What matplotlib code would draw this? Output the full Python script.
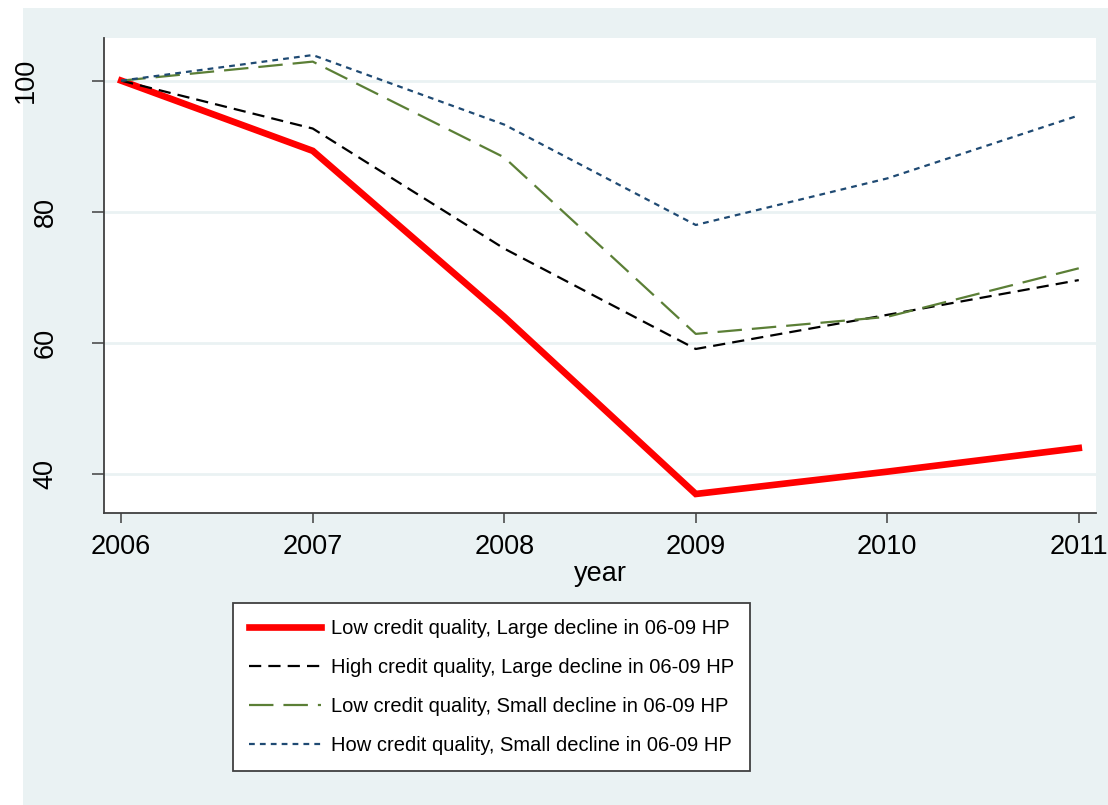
import numpy as np
import matplotlib.pyplot as plt
import matplotlib.transforms as mtransforms
from matplotlib.patches import Rectangle

plt.rcParams['font.family'] = ['Liberation Sans', 'DejaVu Sans']

# values (index, 2006 = 100)
years = [2006, 2007, 2008, 2009, 2010, 2011]
low_large = [100, 89.3, 64.0, 37.0, 40.4, 44.0]
high_large = [100, 92.7, 74.4, 59.1, 64.3, 69.6]
low_small = [100, 102.9, 88.3, 61.4, 64.0, 71.4]
high_small = [100, 103.9, 93.3, 78.0, 85.1, 94.7]

labels = ["Low credit quality, Large decline in 06-09 HP",
          "High credit quality, Large decline in 06-09 HP",
          "Low credit quality, Small decline in 06-09 HP",
          "How credit quality, Small decline in 06-09 HP"]

yticks = [40, 60, 80, 100]

bg = '#eaf2f3'

fig = plt.figure(figsize=(11.08, 8.05), dpi=100, facecolor='white')
# stata style graph region, leaves a white strip on left and top
fig.patches.append(Rectangle((23 / 1108, 0), 1, 1 - 8 / 805, transform=fig.transFigure,
                             facecolor=bg, edgecolor='none', zorder=-1))

ax = fig.add_axes([104 / 1108, 1 - 513 / 805, (1096 - 104) / 1108, (513 - 38) / 805])
ax.set_facecolor('white')

l1, = ax.plot(years, low_large, color='#ff0000', lw=4.8, solid_joinstyle='miter')
l2, = ax.plot(years, high_large, color='black', lw=1.6, dashes=(5.5, 3.2))
l3, = ax.plot(years, low_small, color='#5b7f36', lw=1.6, dashes=(11, 4.5))
l4, = ax.plot(years, high_small, color='#1f4a73', lw=1.6, dashes=(2.6, 2.3))

ax.set_xlim(2005.91, 2011.09)
ax.set_ylim(34.1, 106.5)
ax.set_xticks(years)
ax.set_yticks(yticks)
ax.yaxis.grid(True, color=bg, lw=2)
ax.set_axisbelow(True)

for s in ['top', 'right']:
    ax.spines[s].set_visible(False)
for s in ['left', 'bottom']:
    ax.spines[s].set_color('#404040')
    ax.spines[s].set_linewidth(1.3)

ax.tick_params(axis='x', direction='out', length=7, width=1.1, color='#404040',
               labelsize=19.5, pad=8)
ax.tick_params(axis='y', direction='out', length=8.5, width=1.1, color='#404040',
               labelsize=19.5, pad=24)
for lab in ax.get_yticklabels():
    lab.set_rotation(90)
    lab.set_va('center')
    lab.set_ha('right')
    if lab.get_text() == '100':
        # the 100 label sits further left in the original
        lab.set_transform(lab.get_transform() +
                          mtransforms.ScaledTranslation(-20 / 100, 0, fig.dpi_scale_trans))

ax.set_xlabel('year', fontsize=19.5, labelpad=1)

leg = fig.legend([l1, l2, l3, l4], labels, loc='center',
                 bbox_to_anchor=(491.5 / 1108, 1 - 687 / 805), fontsize=14.5,
                 frameon=True, fancybox=False, framealpha=1,
                 handlelength=3.6, handletextpad=0.5,
                 labelspacing=0.98, borderpad=0.8, borderaxespad=0)
leg.get_frame().set_edgecolor('#404040')
leg.get_frame().set_linewidth(1.3)
leg.get_frame().set_facecolor('white')

fig.savefig('out.png', dpi=100, facecolor='white')
